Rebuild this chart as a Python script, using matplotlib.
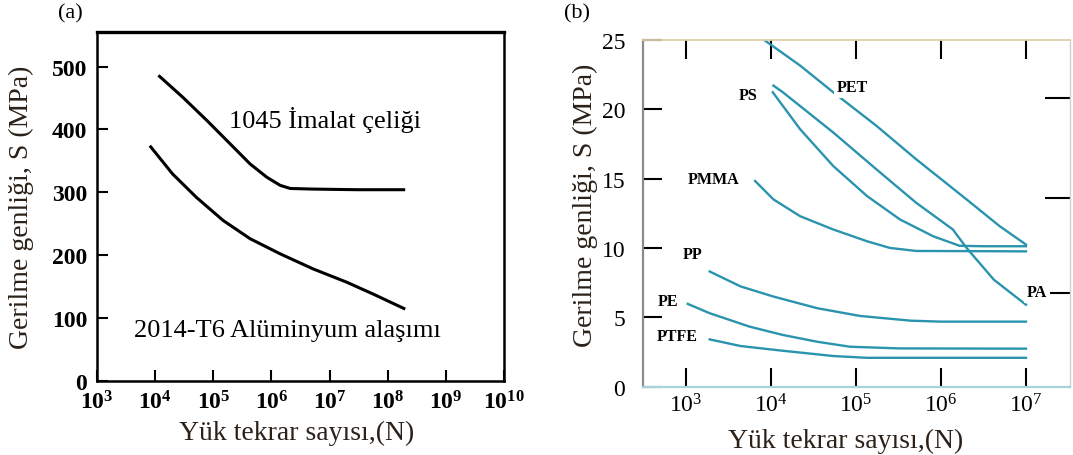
"""
S-N (Wöhler) curves: (a) metals, (b) polymers.
"""
import matplotlib
matplotlib.use("Agg")
import matplotlib.pyplot as plt
from matplotlib.ticker import FixedLocator, FixedFormatter, NullLocator

plt.rcParams.update({
    "font.family": ["Liberation Serif", "DejaVu Serif"],
    "mathtext.fontset": "custom",
    "mathtext.default": "regular",
})

# ---------------------------------------------------------------------------
# Data
# ---------------------------------------------------------------------------

# (a) metals, N cycles vs stress amplitude in MPa
steel_N = [1.14e4, 3.0e4, 7.8e4, 1.95e5, 4.3e5, 8.3e5, 1.41e6, 2.1e6,
           5.2e6, 2.95e7, 2.0e8]
steel_S = [486, 451, 414, 377, 345, 324, 311, 306, 305, 304, 304]
alu_N = [8.1e3, 2.0e4, 5.1e4, 1.48e5, 4.3e5, 1.41e6, 5.2e6, 1.95e7,
         5.6e7, 2.0e8]
alu_S = [374, 329, 292, 255, 226, 202, 178, 157, 138, 114]

a_xticks = [1e3, 1e4, 1e5, 1e6, 1e7, 1e8, 1e9, 1e10]
a_xticklabels = ["$10^{3}$", "$10^{4}$", "$10^{5}$", "$10^{6}$",
                 "$10^{7}$", "$10^{8}$", "$10^{9}$", "$10^{10}$"]
a_yticks = [0, 100, 200, 300, 400, 500]

# (b) polymers, N cycles vs stress amplitude in MPa
pet_N = [7.1e3, 2.2e4, 5.4e4, 1.74e5, 5.1e5, 2.0e6, 4.9e6, 1e7]
pet_S = [25.3, 23.16, 21.23, 18.81, 16.4, 13.5, 11.57, 10.24]
ps_N = [1.05e4, 2.2e4, 5.4e4, 1.35e5, 3.3e5, 8.1e5, 1.66e6, 3.2e6, 1e7]
ps_S = [21.23, 18.57, 15.91, 13.74, 12.05, 10.84, 10.15, 10.12, 10.12]
pa_N = [1.07e4, 1.38e4, 5.4e4, 1.74e5, 5.1e5, 1.38e6, 2.0e6, 4.2e6, 1e7]
pa_S = [21.71, 21.23, 18.33, 15.67, 13.26, 11.33, 10.0, 7.7, 5.9]
pmma_N = [6.5e3, 1.07e4, 2.2e4, 5.4e4, 1.35e5, 2.5e5, 5.1e5, 1e7]
pmma_S = [14.83, 13.5, 12.29, 11.33, 10.48, 10.0, 9.78, 9.75]
pp_N = [1.9e3, 4.4e3, 1.07e4, 3.5e4, 1.12e5, 4.4e5, 1e6, 1e7]
pp_S = [8.3, 7.22, 6.49, 5.65, 5.09, 4.75, 4.68, 4.68]
pe_N = [1.05e3, 1.9e3, 5.6e3, 1.38e4, 3.5e4, 8.5e4, 3.2e5, 1e7]
pe_S = [5.96, 5.29, 4.32, 3.72, 3.23, 2.87, 2.75, 2.73]
ptfe_N = [1.9e3, 4.4e3, 1.38e4, 5.4e4, 1.35e5, 1e7]
ptfe_S = [3.40, 2.92, 2.58, 2.2, 2.07, 2.07]

polymer_names = ["PET", "PS", "PMMA", "PP", "PE", "PTFE", "PA"]
label_N = [9.1e4, 5.4e3, 2.1e3, 1.2e3, 6.2e2, 7.8e2, 1.35e7]
label_S = [21.6, 21.0, 14.97, 9.56, 6.19, 3.62, 6.8]

b_xticks = [1e3, 1e4, 1e5, 1e6, 1e7]
b_xticklabels = ["$10^{3}$", "$10^{4}$", "$10^{5}$", "$10^{6}$", "$10^{7}$"]
b_yticks = [0, 5, 10, 15, 20, 25]
b_right_ticks = [20.8, 13.6, 6.75]

TEAL = "#2a93ad"
INK = "#2b2118"

fig = plt.figure(figsize=(10.73, 4.56), dpi=100)

# ---------------------------------------------------------------------------
# (a)
# ---------------------------------------------------------------------------
ax1 = fig.add_axes([0.0904, 0.1629, 0.3793, 0.7647])
ax1.set_xscale("log")
for n, s in [(steel_N, steel_S), (alu_N, alu_S)]:
    ax1.plot(n, s, color="black", lw=2.2, solid_capstyle="butt",
             solid_joinstyle="round")
ax1.set_xlim(1e3, 1e10)
ax1.set_ylim(0, 555)

ax1.xaxis.set_major_locator(FixedLocator(a_xticks))
ax1.xaxis.set_major_formatter(FixedFormatter(a_xticklabels))
ax1.xaxis.set_minor_locator(NullLocator())
ax1.set_yticks(a_yticks)
ax1.tick_params(direction="in", length=8, width=1.5, pad=7,
                labelsize=17)
for lab in ax1.get_xticklabels() + ax1.get_yticklabels():
    lab.set_fontweight("bold")
for side in ["left", "bottom", "right"]:
    ax1.spines[side].set_linewidth(1.8)
ax1.spines["top"].set_linewidth(2.4)

ax1.text(10**6.93, 417, "1045 İmalat çeliği", fontsize=19,
         ha="center", va="center")
ax1.text(10**6.27, 80, "2014-T6 Alüminyum alaşımı", fontsize=19,
         ha="center", va="center")

ax1.set_xlabel("Yük tekrar sayısı,(N)", fontsize=20, color=INK)
ax1.xaxis.set_label_coords(0.49, -0.112)
ax1.set_ylabel("Gerilme genliği, S (MPa)", fontsize=20, color=INK)
ax1.yaxis.set_label_coords(-0.155, 0.5)
fig.text(70 / 1073, 1 - 14 / 456, "(a)", fontsize=16,
         ha="center", va="center")

# ---------------------------------------------------------------------------
# (b)
# ---------------------------------------------------------------------------
ax2 = fig.add_axes([0.5995, 0.1502, 0.3977, 0.7599])
ax2.set_xscale("log")
for n, s in [(pet_N, pet_S), (ps_N, ps_S), (pa_N, pa_S), (pmma_N, pmma_S),
             (pp_N, pp_S), (pe_N, pe_S), (ptfe_N, ptfe_S)]:
    ax2.plot(n, s, color=TEAL, lw=1.7, solid_joinstyle="round")
ax2.set_xlim(10**2.498, 10**7.518)
ax2.set_ylim(0, 25)

for name, n, s in zip(polymer_names, label_N, label_S):
    ax2.text(n, s, name, fontsize=11.5, fontweight="bold", ha="center",
             va="center", zorder=5,
             bbox=dict(facecolor="white", edgecolor="none", pad=2))

ax2.xaxis.set_major_locator(FixedLocator(b_xticks))
ax2.xaxis.set_major_formatter(FixedFormatter(b_xticklabels))
ax2.xaxis.set_minor_locator(NullLocator())
ax2.set_yticks(b_yticks)
ax2.tick_params(direction="in", length=14, width=1.5, labelsize=17)
ax2.tick_params(axis="x", top=True, pad=5)
ax2.tick_params(axis="y", pad=13)
ax2.spines["left"].set_color("#8a8a8a")
ax2.spines["left"].set_linewidth(1.6)
ax2.spines["top"].set_color("#ddd0ab")
ax2.spines["top"].set_linewidth(1.3)
ax2.spines["bottom"].set_color("#a7d3da")
ax2.spines["bottom"].set_linewidth(1.6)
ax2.spines["right"].set_color("#d0d0d0")
ax2.spines["right"].set_linewidth(1.0)

sec = ax2.secondary_yaxis("right")
sec.set_yticks(b_right_ticks)
sec.tick_params(direction="in", length=18, width=1.5, labelright=False)
sec.spines["right"].set_visible(False)

ax2.set_xlabel("Yük tekrar sayısı,(N)", fontsize=20, color=INK)
ax2.xaxis.set_label_coords(0.475, -0.12)
ax2.set_ylabel("Gerilme genliği, S (MPa)", fontsize=20, color=INK)
ax2.yaxis.set_label_coords(-0.105, 0.525)
fig.text(577 / 1073, 1 - 14 / 456, "(b)", fontsize=16,
         ha="center", va="center")

fig.savefig("out.png", dpi=100)
